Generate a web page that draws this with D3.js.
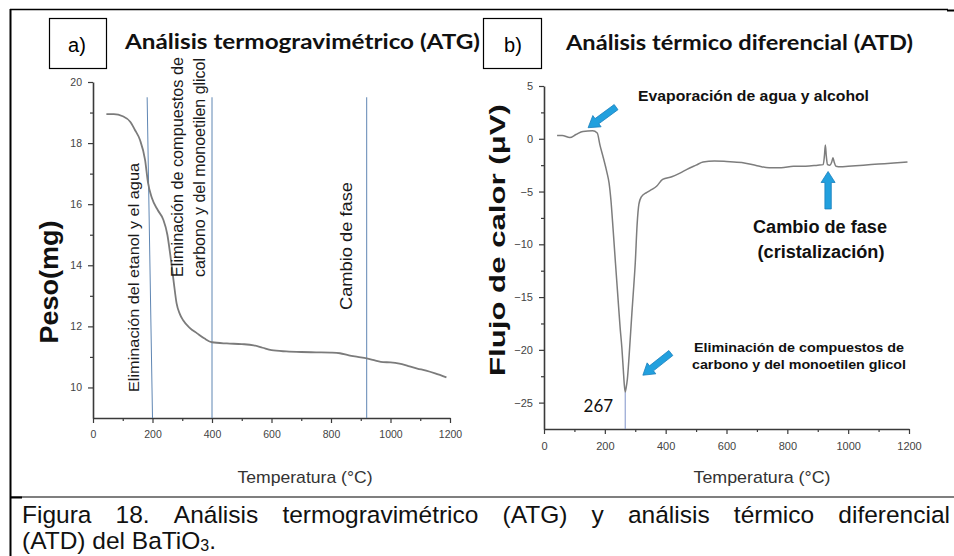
<!DOCTYPE html>
<html>
<head>
<meta charset="utf-8">
<script src="https://cdn.jsdelivr.net/npm/d3@7"></script>
<style>
  body { margin: 0; background: #fff; }
  svg { display: block; }
</style>
</head>
<body>
<svg id="fig" width="954" height="556"></svg>
<script>
// ---- ATG (thermogravimetric) curve: temperature (°C) vs mass (mg)
const atgTemp = [45, 70, 100, 125, 141, 158, 175, 185, 198, 218, 236, 250, 259, 265, 272, 281, 292, 303, 325, 350, 375, 400, 450, 500, 540, 570, 600, 650, 700, 750, 800, 830, 860, 890, 920, 950, 975, 1000, 1030, 1060, 1090, 1120, 1150, 1188];
const atgMass = [18.95, 18.95, 18.88, 18.7, 18.43, 18.1, 17.45, 16.7, 16.2, 15.8, 15.5, 15.0, 14.4, 13.95, 13.4, 12.75, 12.4, 12.2, 11.95, 11.77, 11.6, 11.48, 11.44, 11.42, 11.38, 11.3, 11.22, 11.18, 11.16, 11.15, 11.14, 11.12, 11.05, 11.0, 10.95, 10.88, 10.83, 10.82, 10.78, 10.7, 10.62, 10.55, 10.46, 10.33];

// ---- ATD (differential thermal) curve: temperature (°C) vs heat flow (µV)
const atdTemp = [43, 60, 85, 105, 128, 160, 175, 184, 195, 207, 214, 220, 227, 235, 243, 250, 256, 261, 264, 267, 270, 274, 280, 289, 295, 300, 306, 312, 320, 337, 355, 370, 390, 420, 447, 470, 500, 523, 560, 600, 650, 700, 740, 780, 820, 860, 900, 918, 922, 925, 928, 932, 940, 946, 950, 954, 960, 975, 1000, 1050, 1100, 1150, 1195];
const atdFlow = [0.3, 0.3, 0.12, 0.4, 0.7, 0.75, 0.55, -0.6, -1.8, -3.2, -4.2, -5.8, -8.5, -11.8, -15, -17.8, -19.8, -22, -23.3, -24, -23.6, -22.8, -20.5, -16.5, -14, -11.8, -8.2, -6.2, -5.5, -5.1, -4.8, -4.5, -3.85, -3.6, -3.25, -2.9, -2.5, -2.2, -2.1, -2.15, -2.25, -2.55, -2.75, -2.75, -2.6, -2.6, -2.5, -2.45, -1.6, -0.6, -1.6, -2.45, -2.5, -2.2, -1.8, -2.2, -2.6, -2.65, -2.6, -2.5, -2.4, -2.3, -2.2];

// ---- axis ticks
const tempTicks = [0, 200, 400, 600, 800, 1000, 1200];
const tempMinorTicks = [100, 300, 500, 700, 900, 1100];
const atgTicks = [10, 12, 14, 16, 18, 20];
const atgMinorTicks = [11, 13, 15, 17, 19];
const atdTicks = [5, 0, -5, -10, -15, -20, -25];
const atdMinorTicks = [2.5, -2.5, -7.5, -12.5, -17.5, -22.5];

// ---- event markers on the ATG panel (temperature at top and at bottom of each line)
const atgEventTop = [182, 400, 920];
const atgEventBottom = [200, 400, 920];
const atgEventLabels = [
  ["Eliminación del etanol y el agua"],
  ["Eliminación de compuestos de", "carbono y del monoetilen glicol"],
  ["Cambio de fase"]
];

// ---- ATD peak and annotation arrows (tail -> tip, data units)
const atdPeakTemp = 267;
const atdPeakFlow = -24;
const arrowTails = [[237, 3.0], [934, -6.65], [417, -20.3]];
const arrowTips  = [[145, 1.05], [934, -3.1], [325, -22.4]];

const svg = d3.select("#fig");
const sans = "'Liberation Sans', Arial, sans-serif";
const title = "Lato, 'Open Sans', sans-serif";

// ---------- frame ----------
const frame = svg.append("g").attr("stroke", "#000").attr("fill", "none");
frame.append("line").attr("x1", 10).attr("x2", 948).attr("y1", 9.5).attr("y2", 9.5).attr("stroke-width", 1.3);
frame.append("line").attr("x1", 947).attr("x2", 954).attr("y1", 10.5).attr("y2", 10.5).attr("stroke-width", 2);
frame.append("line").attr("x1", 10.5).attr("x2", 10.5).attr("y1", 9).attr("y2", 556).attr("stroke-width", 2);
frame.append("line").attr("x1", 10).attr("x2", 954).attr("y1", 497).attr("y2", 497).attr("stroke-width", 1.2);
frame.append("line").attr("x1", 10).attr("x2", 22).attr("y1", 497.5).attr("y2", 497.5).attr("stroke-width", 2);

// ---------- scales ----------
const xL = d3.scaleLinear().domain([0, 1200]).range([93, 450]);
const yL = d3.scaleLinear().domain([9, 20]).range([418, 82]);
const xR = d3.scaleLinear().domain([0, 1200]).range([544, 909]);
const yR = d3.scaleLinear().domain([-27.5, 5]).range([429, 86]);

function styleAxis(g, labelSize) {
  g.select(".domain").attr("stroke", "#3a3a3a").attr("stroke-width", 1.6);
  g.selectAll(".tick line").attr("stroke", "#3a3a3a").attr("stroke-width", 1.2);
  g.selectAll(".tick text")
    .attr("fill", "#444")
    .style("font-family", sans)
    .style("font-size", labelSize + "px");
}

function drawAxes(x, y, yTicks, yMinor, yBottom, xLeft, labelSize) {
  const fmt = d3.format("d");
  const gx = svg.append("g").attr("transform", `translate(0,${yBottom})`)
    .call(d3.axisBottom(x).tickValues(tempTicks).tickFormat(fmt).tickSize(5).tickSizeOuter(0).tickPadding(8));
  styleAxis(gx, labelSize);
  const gxm = svg.append("g").attr("transform", `translate(0,${yBottom})`)
    .call(d3.axisBottom(x).tickValues(tempMinorTicks).tickSize(3).tickFormat(""));
  gxm.select(".domain").remove();
  gxm.selectAll(".tick line").attr("stroke", "#3a3a3a").attr("stroke-width", 1.2);

  const gy = svg.append("g").attr("transform", `translate(${xLeft},0)`)
    .call(d3.axisLeft(y).tickValues(yTicks).tickFormat(fmt).tickSize(5).tickSizeOuter(0).tickPadding(6));
  styleAxis(gy, labelSize);
  const gym = svg.append("g").attr("transform", `translate(${xLeft},0)`)
    .call(d3.axisLeft(y).tickValues(yMinor).tickSize(3).tickFormat(""));
  gym.select(".domain").remove();
  gym.selectAll(".tick line").attr("stroke", "#3a3a3a").attr("stroke-width", 1.2);
}

// ---------- panel a) ATG ----------
svg.append("rect").attr("x", 49.5).attr("y", 18.5).attr("width", 57).attr("height", 50)
  .attr("fill", "#fff").attr("stroke", "#000").attr("stroke-width", 1.2);
svg.append("text").attr("x", 77).attr("y", 52).attr("text-anchor", "middle")
  .style("font-family", sans).style("font-size", "20px").text("a)");
svg.append("text").attr("x", 125).attr("y", 49)
  .attr("textLength", 355).attr("lengthAdjust", "spacingAndGlyphs")
  .style("font-family", title).style("font-weight", 700).style("font-size", "21px").attr("fill", "#111")
  .text("Análisis termogravimétrico (ATG)");

drawAxes(xL, yL, atgTicks, atgMinorTicks, 418, 93, 10.5);

// event lines
svg.append("g").selectAll("line").data(atgEventTop).join("line")
  .attr("x1", (d) => xL(d)).attr("y1", yL(19.5))
  .attr("x2", (d, i) => xL(atgEventBottom[i])).attr("y2", yL(9))
  .attr("stroke", "#5f86b3").attr("stroke-width", 1);

// ATG curve
const atgPts = atgTemp.map((t, i) => [t, atgMass[i]]);
svg.append("path").datum(atgPts)
  .attr("fill", "none").attr("stroke", "#7b7b7b").attr("stroke-width", 1.8)
  .attr("d", d3.line().x((d) => xL(d[0])).y((d) => yL(d[1])).curve(d3.curveMonotoneX));

// rotated event labels
function vText(xBase, yStart, len, size, str) {
  svg.append("text")
    .attr("transform", `translate(${xBase},${yStart}) rotate(-90)`)
    .attr("textLength", len).attr("lengthAdjust", "spacingAndGlyphs")
    .style("font-family", sans).style("font-size", size + "px").attr("fill", "#1a1a1a")
    .text(str);
}
vText(139, 392, 229, 15.5, atgEventLabels[0][0]);
vText(183, 277, 220, 16, atgEventLabels[1][0]);
vText(205, 277, 219, 16, atgEventLabels[1][1]);
vText(352, 310, 128, 17, atgEventLabels[2][0]);

// axis titles
svg.append("text").attr("transform", "translate(58,282) rotate(-90)").attr("text-anchor", "middle")
  .attr("textLength", 123).attr("lengthAdjust", "spacingAndGlyphs")
  .style("font-family", sans).style("font-weight", 700).style("font-size", "26px").attr("fill", "#111")
  .text("Peso(mg)");
svg.append("text").attr("x", 305).attr("y", 483).attr("text-anchor", "middle")
  .attr("textLength", 135).attr("lengthAdjust", "spacingAndGlyphs")
  .style("font-family", sans).style("font-size", "17px").attr("fill", "#333")
  .text("Temperatura (°C)");

// ---------- panel b) ATD ----------
svg.append("rect").attr("x", 483.5).attr("y", 18.5).attr("width", 58).attr("height", 50)
  .attr("fill", "#fff").attr("stroke", "#000").attr("stroke-width", 1.2);
svg.append("text").attr("x", 513).attr("y", 52).attr("text-anchor", "middle")
  .style("font-family", sans).style("font-size", "20px").text("b)");
svg.append("text").attr("x", 566).attr("y", 50)
  .attr("textLength", 347).attr("lengthAdjust", "spacingAndGlyphs")
  .style("font-family", title).style("font-weight", 700).style("font-size", "21px").attr("fill", "#111")
  .text("Análisis térmico diferencial (ATD)");

drawAxes(xR, yR, atdTicks, atdMinorTicks, 429, 544, 11);

// peak marker
svg.append("line")
  .attr("x1", xR(atdPeakTemp)).attr("x2", xR(atdPeakTemp))
  .attr("y1", yR(atdPeakFlow)).attr("y2", yR(-27.5))
  .attr("stroke", "#7f93c9").attr("stroke-width", 1);

// ATD curve
const atdPts = atdTemp.map((t, i) => [t, atdFlow[i]]);
svg.append("path").datum(atdPts)
  .attr("fill", "none").attr("stroke", "#7d7d7d").attr("stroke-width", 1.5)
  .attr("d", d3.line().x((d) => xR(d[0])).y((d) => yR(d[1])).curve(d3.curveMonotoneX));

svg.append("text").attr("x", xR(atdPeakTemp) - 12).attr("y", 412).attr("text-anchor", "end")
  .style("font-family", title).style("font-size", "17px").attr("fill", "#111")
  .text(String(atdPeakTemp));

// arrows
function arrowPath(tail, tip) {
  const x1 = xR(tail[0]), y1 = yR(tail[1]), x2 = xR(tip[0]), y2 = yR(tip[1]);
  const L = Math.hypot(x2 - x1, y2 - y1);
  const ux = (x2 - x1) / L, uy = (y2 - y1) / L;
  const nx = -uy, ny = ux;
  const sw = 3.2, hw = 7, hl = 11;
  const bx = x2 - ux * hl, by = y2 - uy * hl;
  const p = [
    [x1 + nx * sw, y1 + ny * sw], [bx + nx * sw, by + ny * sw], [bx + nx * hw, by + ny * hw],
    [x2, y2],
    [bx - nx * hw, by - ny * hw], [bx - nx * sw, by - ny * sw], [x1 - nx * sw, y1 - ny * sw]
  ];
  return "M" + p.map((q) => q.join(",")).join("L") + "Z";
}
svg.append("g").selectAll("path").data(arrowTails).join("path")
  .attr("d", (d, i) => arrowPath(d, arrowTips[i]))
  .attr("fill", "#22a0de").attr("stroke", "#1a7fbd").attr("stroke-width", 0.8);

// annotations
function note(x, y, len, size, str, anchor) {
  svg.append("text").attr("x", x).attr("y", y).attr("text-anchor", anchor || "start")
    .attr("textLength", len).attr("lengthAdjust", "spacingAndGlyphs")
    .style("font-family", sans).style("font-weight", 700).style("font-size", size + "px").attr("fill", "#111")
    .text(str);
}
note(638, 101, 231, 15, "Evaporación de agua y alcohol");
note(820, 233, 134, 18, "Cambio de fase", "middle");
note(821, 258, 127, 18, "(cristalización)", "middle");
note(799, 352, 210, 12.5, "Eliminación de compuestos de", "middle");
note(799, 369, 214, 12.5, "carbono y del monoetilen glicol", "middle");

// axis titles
svg.append("text").attr("transform", "translate(505,240) rotate(-90)").attr("text-anchor", "middle")
  .attr("textLength", 272).attr("lengthAdjust", "spacingAndGlyphs")
  .style("font-family", sans).style("font-weight", 700).style("font-size", "22px").attr("fill", "#111")
  .text("Flujo de calor (μV)");
svg.append("text").attr("x", 762).attr("y", 483).attr("text-anchor", "middle")
  .attr("textLength", 137).attr("lengthAdjust", "spacingAndGlyphs")
  .style("font-family", sans).style("font-size", "17px").attr("fill", "#333")
  .text("Temperatura (°C)");

// ---------- caption (justified first line) ----------
const capWords = "Figura 18. Análisis termogravimétrico (ATG) y análisis térmico diferencial".split(" ");
const capLeft = 22, capRight = 950;
const capG = svg.append("g").style("font-family", sans).style("font-size", "24.5px").attr("fill", "#111");
const wordNodes = capWords.map((w) => capG.append("text").attr("y", 523).text(w));
const widths = wordNodes.map((n) => n.node().getComputedTextLength());
const gap = (capRight - capLeft - d3.sum(widths)) / (capWords.length - 1);
let cx = capLeft;
wordNodes.forEach((n, i) => { n.attr("x", cx); cx += widths[i] + gap; });

const line2 = capG.append("text").attr("x", capLeft).attr("y", 549);
line2.append("tspan").text("(ATD) del BaTiO");
line2.append("tspan").attr("dy", 2).style("font-size", "16px").text("3");
line2.append("tspan").attr("dy", -2).text(".");
</script>
</body>
</html>
